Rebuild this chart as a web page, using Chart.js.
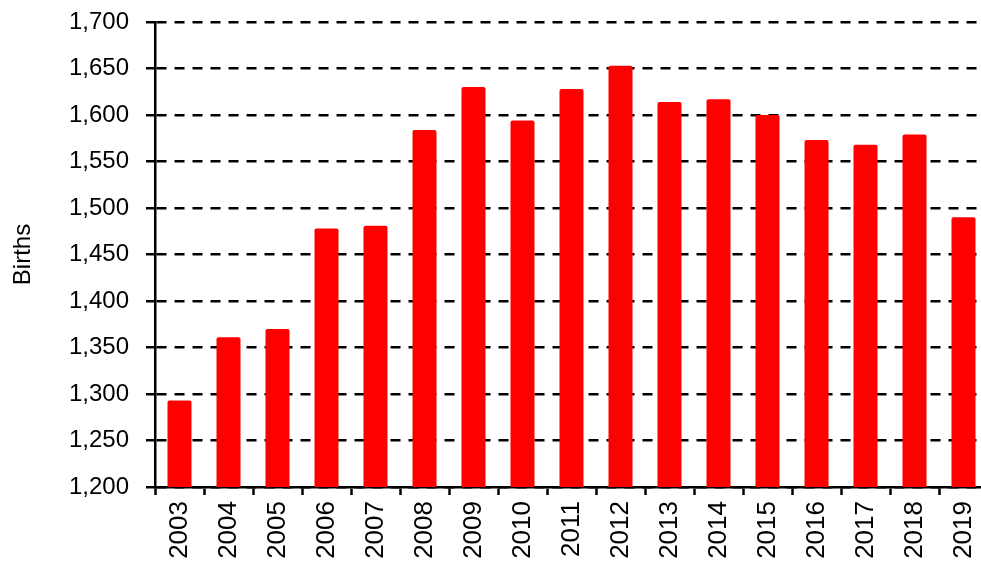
<!DOCTYPE html>
<html>
<head>
<meta charset="utf-8">
<script src="https://cdn.jsdelivr.net/npm/chart.js@4/dist/chart.umd.min.js"></script>
<style>
  html, body { margin: 0; padding: 0; background: #fff; overflow: hidden; }
  #wrap { position: relative; width: 989px; height: 562px; }
</style>
</head>
<body>
<div id="wrap"><canvas id="births"></canvas></div>
<script>
const years = ["2003", "2004", "2005", "2006", "2007", "2008", "2009", "2010", "2011",
  "2012", "2013", "2014", "2015", "2016", "2017", "2018", "2019"];
const births = [1293, 1361, 1370, 1478, 1481, 1584, 1630, 1594, 1628,
  1653, 1614, 1617, 1600, 1573, 1568, 1579, 1490];
const yMin = 1200;
const yMax = 1700;
const yStep = 50;

const font = "'Liberation Sans', Arial, sans-serif";

new Chart(document.getElementById("births"), {
  type: "bar",
  data: {
    labels: years,
    datasets: [
      {
        label: "Births",
        data: births,
        backgroundColor: "#ff0000",
        borderWidth: 0,
        borderRadius: 2,
        borderSkipped: "bottom",
        barPercentage: 0.49,
        categoryPercentage: 1,
      },
    ],
  },
  options: {
    responsive: true,
    maintainAspectRatio: false,
    animation: false,
    layout: { padding: { top: 22, right: 1, left: 0, bottom: 0 } },
    plugins: {
      legend: { display: false },
      tooltip: { enabled: false },
    },
    scales: {
      x: {
        offset: true,
        grid: {
          offset: true,
          drawOnChartArea: false,
          drawTicks: true,
          tickLength: 8,
          tickColor: "#000",
          tickWidth: 2.5,
        },
        border: { color: "#000", width: 2.5 },
        ticks: {
          autoSkip: false,
          minRotation: 90,
          maxRotation: 90,
          padding: 6,
          color: "#000",
          font: { family: font, size: 26 },
        },
        afterFit: (scale) => {
          scale.height = 75;
          scale.paddingLeft = 0;
          scale.paddingRight = 0;
        },
      },
      y: {
        min: yMin,
        max: yMax,
        grid: {
          color: "#000",
          lineWidth: 2.5,
          tickLength: 9,
          tickColor: "#000",
          tickWidth: 2.5,
          tickBorderDash: [],
        },
        border: { color: "#000", width: 2.5, dash: [10, 8], dashOffset: 0 },
        ticks: {
          stepSize: yStep,
          padding: 17,
          color: "#000",
          font: { family: font, size: 24 },
          callback: (v) => v.toLocaleString("en-US"),
        },
        title: {
          display: true,
          text: "Births",
          color: "#000",
          padding: { top: 9, bottom: 0 },
          font: { family: font, size: 24 },
        },
        afterFit: (scale) => {
          scale.width = 155;
          scale.paddingTop = 0;
          scale.paddingBottom = 0;
        },
      },
    },
  },
});
</script>
</body>
</html>
